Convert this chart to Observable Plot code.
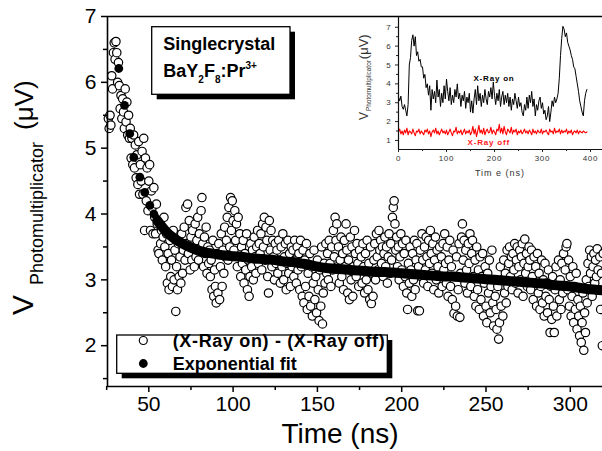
<!DOCTYPE html>
<html><head><meta charset="utf-8">
<script src="https://cdn.jsdelivr.net/npm/d3@7"></script>
<script src="https://cdn.jsdelivr.net/npm/@observablehq/plot@0.6"></script>
<style>
body{margin:0;background:#fff;}
#wrap{position:relative;width:602px;height:451px;overflow:hidden;background:#fff;font-family:"Liberation Sans",Arial,sans-serif;}
#inset{position:absolute;left:355px;top:16px;}
#main{position:absolute;left:0;top:0;}
</style></head><body><div id="wrap"><div id="main"></div><div id="inset"></div></div>
<script>
// ---- main chart data: (X-Ray on) - (X-Ray off), sampled every 0.5 ns from 26 ns ----
const diffStart = 26, diffStep = 0.5;
const diffValues = [
5.45,5.3,5.5,5.35,6.1,5.9,6.45,6.6,6.35,6.62,6.45,6.0,6.3,5.95,5.6,5.8,5.45,5.75,5.55,5.3,
5.9,5.4,5.7,5.2,5.5,5.15,5.3,4.85,5.15,4.75,5.2,4.7,5.05,4.55,4.9,4.45,5.1,4.3,4.75,4.5,
4.95,4.3,5.15,3.75,4.85,4.2,4.7,4.05,4.5,4.75,3.75,4.35,4.1,3.7,4.4,3.95,3.7,4.15,3.85,3.45,
3.4,3.9,3.55,3.75,3.3,3.65,3.95,3.5,3.2,3.7,2.95,3.4,2.85,3.6,3.05,3.3,2.9,3.75,3.0,3.45,
2.52,3.2,2.85,3.55,3.05,3.35,2.95,3.7,3.1,3.45,3.8,3.3,4.1,3.55,4.15,3.4,3.9,3.15,3.65,3.3,
3.75,3.5,3.2,3.85,3.35,3.6,3.95,3.3,3.7,3.45,4.05,4.25,3.55,3.2,3.65,3.4,3.8,3.1,3.5,3.25,
3.45,3.05,3.3,2.85,3.6,2.75,3.15,2.9,2.65,3.4,2.8,3.55,2.7,3.2,3.7,2.9,3.45,3.1,3.8,3.35,
3.6,3.95,3.3,4.1,3.5,4.25,3.75,4.2,3.9,3.45,4.05,3.6,3.85,3.2,3.95,3.35,3.7,3.05,3.5,3.25,
3.6,2.95,3.4,3.15,3.7,2.85,3.3,2.75,3.05,3.55,3.2,3.45,3.0,3.65,3.35,3.1,3.5,3.75,3.25,3.55,
3.4,3.7,3.15,3.85,3.5,3.95,3.3,3.8,3.6,3.05,2.8,3.9,3.45,3.75,3.2,3.6,3.35,3.0,3.55,3.25,
3.45,3.1,3.6,3.3,2.95,3.5,3.2,3.7,3.0,3.35,3.55,2.85,3.25,3.6,3.1,3.4,2.9,3.5,3.2,3.45,
3.05,3.6,3.3,2.95,3.5,3.15,3.4,2.85,3.6,3.2,2.75,3.45,2.65,3.3,2.9,3.55,2.55,3.1,2.75,3.4,
2.6,3.2,2.45,2.95,3.45,2.7,3.05,2.5,3.3,2.85,2.38,3.15,2.6,3.5,2.33,2.8,3.25,2.95,3.55,3.1,
3.4,3.0,3.6,3.25,2.9,3.5,3.15,3.75,3.35,3.95,3.6,3.85,3.2,3.5,2.95,3.3,3.65,3.05,3.4,2.85,
3.6,3.2,3.85,3.45,2.8,3.3,2.7,3.65,3.0,3.5,2.75,3.2,3.75,3.4,3.05,3.55,3.25,2.9,3.45,3.15,
3.35,2.95,3.55,3.2,2.8,3.4,3.0,3.6,2.85,3.25,2.7,3.5,2.64,3.1,2.75,3.3,3.55,3.0,3.7,3.35,
3.15,3.75,3.45,3.6,3.25,3.5,3.05,3.4,3.65,3.2,3.5,2.95,3.35,3.7,3.1,3.55,3.3,3.95,4.1,4.2,
3.85,3.45,3.65,3.2,3.5,3.0,3.35,3.7,3.15,3.55,2.9,3.4,3.05,3.6,2.8,2.55,3.25,2.95,3.5,3.15,
2.75,3.4,3.0,3.6,2.85,3.3,3.55,2.53,3.2,2.53,3.45,3.05,3.7,3.3,2.95,3.5,3.15,3.65,3.35,2.9,
3.6,3.25,3.75,3.4,3.1,3.55,2.85,3.3,3.65,3.0,3.45,3.2,2.8,3.5,3.05,3.35,2.9,3.55,3.15,3.7,
3.25,2.95,3.5,2.75,3.3,3.6,2.9,3.2,2.7,3.45,2.49,3.05,2.6,3.35,2.45,2.85,3.55,2.43,3.1,3.65,
3.85,3.3,3.6,2.95,3.45,3.15,2.8,3.55,3.25,3.7,2.9,3.4,3.6,3.05,2.75,3.3,2.6,3.5,2.85,3.15,
2.55,3.35,2.7,3.05,3.4,2.45,2.95,3.2,2.6,2.35,3.1,2.8,3.3,2.5,2.9,3.45,2.65,2.3,3.0,2.75,
2.55,2.25,2.9,2.1,2.35,3.2,2.6,3.0,2.45,3.3,2.8,3.1,2.65,3.45,2.9,3.25,3.5,3.05,3.35,2.85,
3.4,3.15,3.55,2.95,3.3,3.5,2.8,3.2,3.45,3.0,3.35,3.55,2.75,3.25,3.62,3.1,3.4,2.9,3.2,3.5,
3.3,2.85,3.45,3.05,2.7,3.35,2.95,3.2,2.6,3.4,2.8,3.1,2.55,2.9,3.3,2.65,3.0,2.45,3.25,2.75,
2.95,2.5,3.15,2.7,2.2,2.9,2.4,3.05,2.6,2.2,2.85,3.2,2.45,2.95,3.3,2.7,3.0,2.55,3.25,2.8,
3.4,2.9,3.15,3.5,3.55,2.85,3.3,2.6,3.05,2.45,2.75,3.2,2.35,2.9,2.55,3.1,2.25,2.7,2.45,2.15,
2.6,2.05,2.35,2.8,1.93,2.5,2.2,3.0,2.65,3.25,2.9,3.45,3.1,3.35,2.75,3.2,3.4,2.95,3.3,3.05,
3.47,3.15,2.85,3.35,2.55,3.1,2.0,3.4
];
// ---- exponential fit: separate early points and the dense band ----
const fitDotTimes  = [32.2, 35.6, 38.7, 41.1, 44.7, 47.6, 50.6, 53.0];
const fitDotValues = [6.21, 5.65, 5.22, 4.86, 4.56, 4.33, 4.13, 4.0];
const fitLineTimes  = [55,60,65,70,75,80,85,90,95,100,105,110,115,120,125,130,135,140,145,150,155,160,165,170,175,180,185,190,195,200,205,210,215,220,225,230,235,240,245,250,255,260,265,270,275,280,285,290,295,300,305,310,315,320];
const fitLineValues = [3.9,3.74,3.63,3.55,3.49,3.44,3.41,3.39,3.37,3.36,3.35,3.33,3.32,3.31,3.30,3.28,3.27,3.25,3.23,3.20,3.18,3.17,3.16,3.15,3.14,3.13,3.12,3.12,3.11,3.10,3.09,3.08,3.07,3.06,3.05,3.05,3.04,3.03,3.02,3.01,3.00,2.99,2.98,2.97,2.96,2.95,2.94,2.92,2.91,2.90,2.88,2.86,2.85,2.84];
const xMajorTicks = [50,100,150,200,250,300];
const xMinorTicks = [25,75,125,175,225,275];
const yMajorTicks = [2,3,4,5,6,7];
const yMinorTicks = [1.5,2.5,3.5,4.5,5.5,6.5];

// ---- inset data, sampled every 2.5 ns from 0 ns ----
const insetStart = 0, insetStep = 2.5;
const xrayOn = [
3.3,3.1,3.35,2.8,2.65,2.9,2.6,2.3,2.9,5.0,5.4,6.3,6.6,6.0,6.5,5.5,5.7,5.2,5.3,4.9,
4.9,4.3,4.5,3.8,4.0,3.4,3.9,2.6,3.7,3.2,3.6,3.0,4.2,3.3,3.7,2.8,3.5,3.0,3.9,3.2,
4.25,3.6,3.1,3.8,2.9,3.4,3.0,3.7,3.3,4.0,3.2,3.5,2.8,3.4,3.1,3.6,2.7,3.3,3.0,3.5,
2.5,3.1,2.45,3.2,3.7,2.9,3.9,3.1,3.5,2.8,3.4,3.0,3.7,3.2,2.9,3.6,3.3,3.8,3.2,4.1,
3.4,2.9,3.5,3.1,3.7,2.8,3.3,3.6,2.9,3.4,3.0,3.5,2.8,3.3,2.6,3.2,2.9,3.5,3.1,2.7,
3.3,2.8,3.0,2.5,2.3,2.9,2.6,3.3,2.7,3.4,3.0,3.6,2.8,3.2,2.3,2.9,2.6,3.1,3.3,2.7,
3.0,2.4,2.6,2.1,2.3,2.8,2.0,2.5,3.1,2.8,3.3,3.0,3.2,3.5,4.3,5.5,6.4,7.05,6.9,6.5,
6.7,6.2,6.0,5.8,5.5,5.3,4.9,4.8,4.4,4.0,3.6,3.1,2.8,2.5,2.3,3.1,3.5,3.7
];
const xrayOff = [
1.45,1.6,1.35,1.5,1.3,1.55,1.4,1.65,1.3,1.5,1.45,1.35,1.6,1.4,1.25,1.5,1.45,1.6,1.35,1.5,
1.4,1.3,1.55,1.45,1.6,1.35,1.5,1.2,1.45,1.55,1.4,1.65,1.35,1.5,1.3,1.45,1.6,1.4,1.5,1.35,
1.55,1.3,1.45,1.6,1.4,1.25,1.5,1.45,1.7,1.35,1.5,1.4,1.55,1.3,1.45,1.6,1.35,1.5,1.4,1.55,
1.3,1.45,1.75,1.35,1.6,1.2,1.5,1.8,1.4,1.55,1.35,1.65,1.3,1.5,1.6,1.4,1.45,1.7,1.35,1.55,
1.45,1.3,1.6,1.5,1.85,1.4,1.65,1.35,1.75,1.45,1.3,1.6,1.5,1.4,1.7,1.35,1.55,1.45,1.6,1.3,
1.5,1.4,1.55,1.35,1.45,1.6,1.4,1.5,1.35,1.55,1.45,1.3,1.6,1.4,1.5,1.35,1.55,1.45,1.4,1.6,
1.35,1.5,1.45,1.55,1.4,1.3,1.6,1.45,1.5,1.35,1.65,1.4,1.5,1.45,1.6,1.35,1.55,1.4,1.5,1.45,
1.6,1.35,1.5,1.4,1.55,1.3,1.45,1.5,1.4,1.55,1.35,1.5,1.45,1.4,1.5,1.45,1.4,1.45
];
const insetXTicks = [0,100,200,300,400];
const insetXMinor = [50,150,250,350];
const insetYTicks = [1,2,3,4,5,6,7];
const insetYMinor = [1.5,2.5,3.5,4.5,5.5,6.5];
const insetLabels = [{t:199, v:4.31, text:"X-Ray on", color:"#000"}, {t:188, v:0.87, text:"X-Ray off", color:"#ff1a1a"}];

const FONT = "Liberation Sans, Arial, sans-serif";
const fmt = d => String(d);
const diffData = diffValues.map((v,i)=>({t: diffStart + i*diffStep, v}));
const fitDots = fitDotTimes.map((t,i)=>({t, v: fitDotValues[i]}));
const fitLine = fitLineTimes.map((t,i)=>({t, v: fitLineValues[i]}));

const X0 = 25.5, X1 = 319.1, Y0 = 1.38, Y1 = 7;
const main = Plot.plot({
  width: 602, height: 451,
  marginLeft: 107, marginRight: 0, marginTop: 16, marginBottom: 65,
  x: {domain: [X0, X1], label: null},
  y: {domain: [Y0, Y1], label: null},
  style: {fontFamily: FONT, fontSize: "21px", background: "white", color: "black", overflow: "visible"},
  marks: [
    Plot.dot(diffData, {x: "t", y: "v", r: 4.2, stroke: "black", strokeWidth: 1.2, fill: "white"}),
    Plot.line(fitLine, {x: "t", y: "v", stroke: "black", strokeWidth: 10, curve: "natural", strokeLinecap: "round"}),
    Plot.dot(fitDots, {x: "t", y: "v", r: 4.4, fill: "black", stroke: "none"}),
    Plot.ruleX([X0], {stroke: "black", strokeWidth: 1.6}),
    Plot.ruleY([Y0], {stroke: "black", strokeWidth: 1.6}),
    Plot.ruleY([Y1], {stroke: "black", strokeWidth: 1.6}),
    Plot.axisX({ticks: xMajorTicks, tickSize: 6, tickPadding: 4, fontSize: 21, strokeWidth: 1.5, label: null, fill: "black", tickFormat: fmt}),
    Plot.axisX({ticks: xMinorTicks, tickSize: 4, strokeWidth: 1.5, tickFormat: () => "", label: null}),
    Plot.axisY({ticks: yMajorTicks, tickSize: 6, tickPadding: 5, fontSize: 21, strokeWidth: 1.5, label: null, fill: "black", tickFormat: fmt}),
    Plot.axisY({ticks: yMinorTicks, tickSize: 4, strokeWidth: 1.5, tickFormat: () => "", label: null})
  ]
});
document.getElementById("main").appendChild(main);
const svg = d3.select(main).append("g").attr("text-anchor", "start").attr("font-family", FONT);

// axis titles
svg.append("text").attr("x", 340).attr("y", 443).attr("text-anchor", "middle")
  .attr("font-size", 28).attr("fill", "black").text("Time (ns)");
const yl = svg.append("text").attr("transform", "translate(33,315) rotate(-90)")
  .attr("fill", "black").attr("font-size", 30);
yl.append("tspan").text("V");
yl.append("tspan").attr("font-size", 18).attr("dx", 10).attr("dy", 10).text("Photomultiplicator");
yl.append("tspan").attr("font-size", 26).attr("dx", 12).attr("dy", -10).text("(\u03bcV)");

// annotation box
svg.append("rect").attr("x", 156.7).attr("y", 31.7).attr("width", 138.3).attr("height", 67.6).attr("fill", "black");
svg.append("rect").attr("x", 151.7).attr("y", 26.7).attr("width", 138.3).attr("height", 67.6).attr("fill", "white").attr("stroke", "black").attr("stroke-width", 1.3);
svg.append("text").attr("x", 163.3).attr("y", 50).attr("font-weight", "bold").attr("font-size", 18).attr("fill", "black").text("Singlecrystal");
const t2 = svg.append("text").attr("x", 163.3).attr("y", 76.7).attr("font-weight", "bold").attr("font-size", 18).attr("fill", "black");
t2.append("tspan").text("BaY");
t2.append("tspan").attr("font-size", 10).attr("dy", 6).text("2");
t2.append("tspan").attr("dy", -6).text("F");
t2.append("tspan").attr("font-size", 10).attr("dy", 6).text("8");
t2.append("tspan").attr("dy", -6).text(":Pr");
t2.append("tspan").attr("font-size", 10).attr("dy", -8).text("3+");

// legend box
svg.append("rect").attr("x", 121.7).attr("y", 340).attr("width", 270.6).attr("height", 38.3).attr("fill", "black");
svg.append("rect").attr("x", 116.7).attr("y", 335).attr("width", 270.6).attr("height", 38.3).attr("fill", "white").attr("stroke", "black").attr("stroke-width", 1.3);
svg.append("circle").attr("cx", 143.3).attr("cy", 340.5).attr("r", 4).attr("fill", "white").attr("stroke", "black").attr("stroke-width", 1.2);
svg.append("circle").attr("cx", 143.3).attr("cy", 363.5).attr("r", 4.4).attr("fill", "black");
svg.append("text").attr("x", 172.7).attr("y", 347).attr("font-weight", "bold").attr("font-size", 18)
  .attr("textLength", 212).attr("lengthAdjust", "spacing").attr("fill", "black").text("(X-Ray on) - (X-Ray off)");
svg.append("text").attr("x", 172.7).attr("y", 370).attr("font-weight", "bold").attr("font-size", 18)
  .attr("fill", "black").text("Exponential fit");

// ---- inset ----
const onData = xrayOn.map((v,i)=>({t: insetStart + i*insetStep, v}));
const offData = xrayOff.map((v,i)=>({t: insetStart + i*insetStep, v}));
const inset = Plot.plot({
  width: 247, height: 169,
  marginLeft: 43, marginRight: 0, marginTop: 0, marginBottom: 36,
  x: {domain: [0, 425], label: null},
  y: {domain: [0.52, 7.57], label: null},
  style: {fontFamily: FONT, fontSize: "8px", background: "transparent", color: "#222", overflow: "visible"},
  marks: [
    Plot.line(offData, {x: "t", y: "v", stroke: "#ff0000", strokeWidth: 1.1}),
    Plot.line(onData, {x: "t", y: "v", stroke: "black", strokeWidth: 1}),
    Plot.text(insetLabels, {x: "t", y: "v", text: "text", fill: "color", fontSize: 8, fontWeight: "bold"}),
    Plot.ruleX([0], {stroke: "#111", strokeWidth: 1.2}),
    Plot.ruleY([0.52], {stroke: "#111", strokeWidth: 1.2}),
    Plot.axisX({ticks: insetXTicks, tickSize: 3, tickPadding: 3, fontSize: 8, label: null, fill: "#333", tickFormat: fmt}),
    Plot.axisX({ticks: insetXMinor, tickSize: 2, tickFormat: () => "", label: null}),
    Plot.axisY({ticks: insetYTicks, tickSize: 3, tickPadding: 4, fontSize: 8, label: null, fill: "#333", tickFormat: fmt}),
    Plot.axisY({ticks: insetYMinor, tickSize: 2, tickFormat: () => "", label: null})
  ]
});
document.getElementById("inset").appendChild(inset);
d3.select(inset).selectAll("text").attr("letter-spacing", 0.8);
const isvg = d3.select(inset).append("g").attr("text-anchor", "start").attr("font-family", FONT);
isvg.append("text").attr("x", 145).attr("y", 160).attr("text-anchor", "middle").attr("font-size", 9)
  .attr("letter-spacing", 1).attr("fill", "#333").text("Tim e (ns)");
const il = isvg.append("text").attr("transform", "translate(13,104) rotate(-90)")
  .attr("fill", "#333").attr("font-size", 12);
il.append("tspan").text("V");
il.append("tspan").attr("font-size", 6.4).attr("dx", 1).attr("dy", 3).text("Photomultiplicator");
il.append("tspan").attr("font-size", 13).attr("dx", 1).attr("dy", -3).text("(\u03bcV)");
</script></body></html>
